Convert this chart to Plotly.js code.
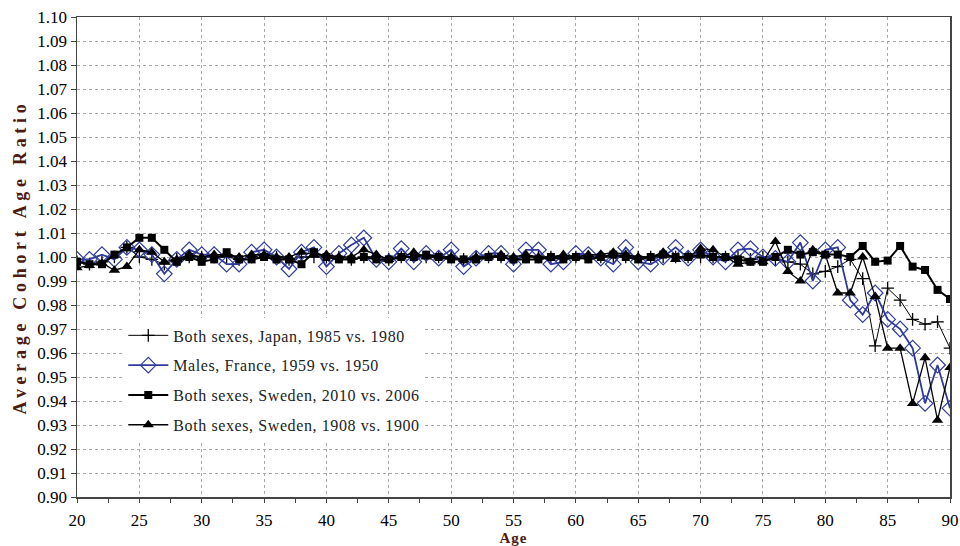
<!DOCTYPE html>
<html>
<head>
<meta charset="utf-8">
<script src="https://cdn.plot.ly/plotly-3.0.1.min.js"></script>
<style>
html,body{margin:0;padding:0;background:#fff;}
#chart{width:960px;height:546px;}
.legendtext{letter-spacing:0.6px;}
#chart .ytitle{letter-spacing:4.7px;}
#chart .annotation-text{letter-spacing:1px;}
</style>
</head>
<body>
<div id="chart"></div>
<script>
// Ages 20..90
const ages = [20,21,22,23,24,25,26,27,28,29,30,31,32,33,34,35,36,37,38,39,40,41,42,43,44,45,46,47,48,49,50,51,52,53,54,55,56,57,58,59,60,61,62,63,64,65,66,67,68,69,70,71,72,73,74,75,76,77,78,79,80,81,82,83,84,85,86,87,88,89,90];

const seriesNames = [
  "Both sexes, Japan, 1985 vs. 1980",
  "Males, France, 1959 vs. 1950",
  "Both sexes, Sweden, 2010 vs. 2006",
  "Both sexes, Sweden, 1908 vs. 1900"
];

const japan1985 = [0.998,0.997,0.998,1.000,1.004,1.000,0.999,0.997,0.999,1.000,1.000,1.000,1.000,0.999,1.000,1.001,1.000,0.999,1.000,1.000,1.000,1.000,0.999,1.000,1.000,0.999,1.000,1.000,1.000,1.000,1.000,0.999,1.000,1.000,1.000,0.999,1.000,1.000,1.000,1.000,1.000,1.000,1.000,1.000,1.000,1.000,1.000,1.000,1.000,1.000,1.000,1.000,1.000,1.000,0.999,1.000,0.999,0.998,0.997,0.993,0.994,0.996,0.999,0.991,0.963,0.987,0.982,0.974,0.972,0.973,0.962];

const france1959 = [0.999,0.999,1.001,0.999,1.004,1.003,1.001,0.993,0.999,1.003,1.001,1.001,0.997,0.997,1.002,1.003,1.000,0.995,1.002,1.004,0.996,1.0015,1.005,1.008,0.999,0.998,1.0035,0.998,1.0015,0.9995,1.003,0.996,0.9995,1.0015,1.0015,0.997,1.003,1.003,0.997,0.998,1.0015,1.001,0.9995,0.997,1.004,0.998,0.997,1.000,1.004,0.9995,1.003,1.000,0.998,1.003,1.0035,1.000,0.9994,0.998,1.006,0.990,1.003,1.004,0.982,0.976,0.985,0.974,0.970,0.962,0.939,0.955,0.937];

const sweden2010 = [0.998,0.997,0.997,1.001,1.004,1.008,1.008,1.003,0.998,1.000,0.998,0.999,1.002,0.999,0.999,1.000,0.999,0.999,0.997,1.002,1.000,0.999,0.999,1.000,0.999,0.999,1.000,1.000,1.001,1.000,0.999,0.999,0.999,1.000,1.000,0.999,0.999,0.999,1.000,0.999,1.000,0.999,1.000,1.001,1.000,0.999,1.000,1.001,1.000,1.000,1.001,1.000,1.000,0.999,0.998,0.998,1.000,1.003,1.001,1.002,1.001,1.001,1.000,1.0046,0.998,0.9985,1.0046,0.996,0.9946,0.9863,0.9825];

const sweden1908 = [0.9955,0.9965,0.9975,0.9945,0.996,1.003,1.002,0.998,0.999,1.001,1.000,1.001,1.001,1.000,1.001,1.001,1.000,1.000,1.002,1.001,1.001,1.000,1.000,1.003,1.001,0.999,1.000,1.002,1.000,1.000,1.000,0.999,1.000,1.000,1.001,1.000,1.001,1.000,1.000,1.001,1.000,1.001,1.001,1.002,1.001,1.000,1.000,1.002,0.999,1.000,1.0035,1.003,1.000,0.997,0.998,0.998,1.0065,0.994,0.990,1.003,1.001,0.985,0.985,1.000,0.9835,0.962,0.962,0.939,0.958,0.932,0.954];

const yTickVals = [0.90,0.91,0.92,0.93,0.94,0.95,0.96,0.97,0.98,0.99,1.00,1.01,1.02,1.03,1.04,1.05,1.06,1.07,1.08,1.09,1.10];
const xTickVals = [20,25,30,35,40,45,50,55,60,65,70,75,80,85,90];
const xTitle = "Age";
const yTitle = "Average Cohort Age Ratio";

const serif = "Liberation Serif, Times New Roman, serif";
const blue = "#2f3b9c";
const titleColor = "#4e1a12";

const traces = [
  {x: ages, y: japan1985, name: seriesNames[0], legendgroup: "a", mode: "lines+markers",
   line: {color: "#000", width: 1},
   marker: {symbol: "cross-thin-open", size: 9, color: "#000", line: {color: "#000", width: 1.3}}},
  {x: ages, y: france1959, name: seriesNames[1], legendgroup: "b", mode: "lines+markers",
   line: {color: blue, width: 1.8},
   marker: {symbol: "diamond-open", size: 12, color: blue, line: {color: blue, width: 1.2}}},
  {x: ages, y: sweden2010, name: seriesNames[2], legendgroup: "c", mode: "lines+markers",
   line: {color: "#000", width: 2},
   marker: {symbol: "square", size: 8, color: "#000"}},
  {x: ages, y: sweden1908, name: seriesNames[3], legendgroup: "d", mode: "lines+markers",
   line: {color: "#000", width: 1.3},
   marker: {symbol: "triangle-up", size: 10, color: "#000"}}
];

const layout = {
  width: 960, height: 546,
  margin: {l: 77, r: 10, t: 17, b: 49},
  paper_bgcolor: "#fff", plot_bgcolor: "#fff",
  font: {family: serif, color: "#000", size: 15},
  showlegend: true,
  legend: {x: 0.053, y: 0.372, xanchor: "left", yanchor: "top",
    bgcolor: "#fff", borderwidth: 0, font: {family: serif, size: 16, color: "#222"},
    traceorder: "grouped", tracegroupgap: 6, itemwidth: 40},
  xaxis: {
    range: [20, 90], tickvals: xTickVals, ticktext: xTickVals.map(String),
    showline: true, linecolor: "#444", linewidth: 1.5, mirror: true,
    ticks: "outside", ticklen: 4, tickcolor: "#444",
    minor: {dtick: 2.5, ticks: "outside", ticklen: 4, tickcolor: "#444", showgrid: false},
    showgrid: true, gridcolor: "#a8a8a8", griddash: "3px,3px", gridwidth: 1,
    zeroline: false, tickfont: {family: serif, size: 17, color: "#000"},
    ticklabelstandoff: 3
  },
  yaxis: {
    range: [0.90, 1.10], tickvals: yTickVals, tickformat: ".2f",
    showline: true, linecolor: "#444", linewidth: 1.5, mirror: true,
    ticks: "outside", ticklen: 5, tickcolor: "#444",
    showgrid: true, gridcolor: "#a8a8a8", griddash: "3px,3px", gridwidth: 1,
    zeroline: false, tickfont: {family: serif, size: 17, color: "#000"},
    title: {text: "<b>" + yTitle + "</b>", font: {family: serif, size: 18, color: titleColor}, standoff: 6}
  },
  annotations: [{
    text: "<b>" + xTitle + "</b>", xref: "paper", yref: "paper", x: 0.5, y: -0.0844,
    xanchor: "center", yanchor: "middle", showarrow: false,
    font: {family: serif, size: 15, color: titleColor}
  }]
};

Plotly.newPlot("chart", traces, layout, {displayModeBar: false, staticPlot: true});
</script>
</body>
</html>
